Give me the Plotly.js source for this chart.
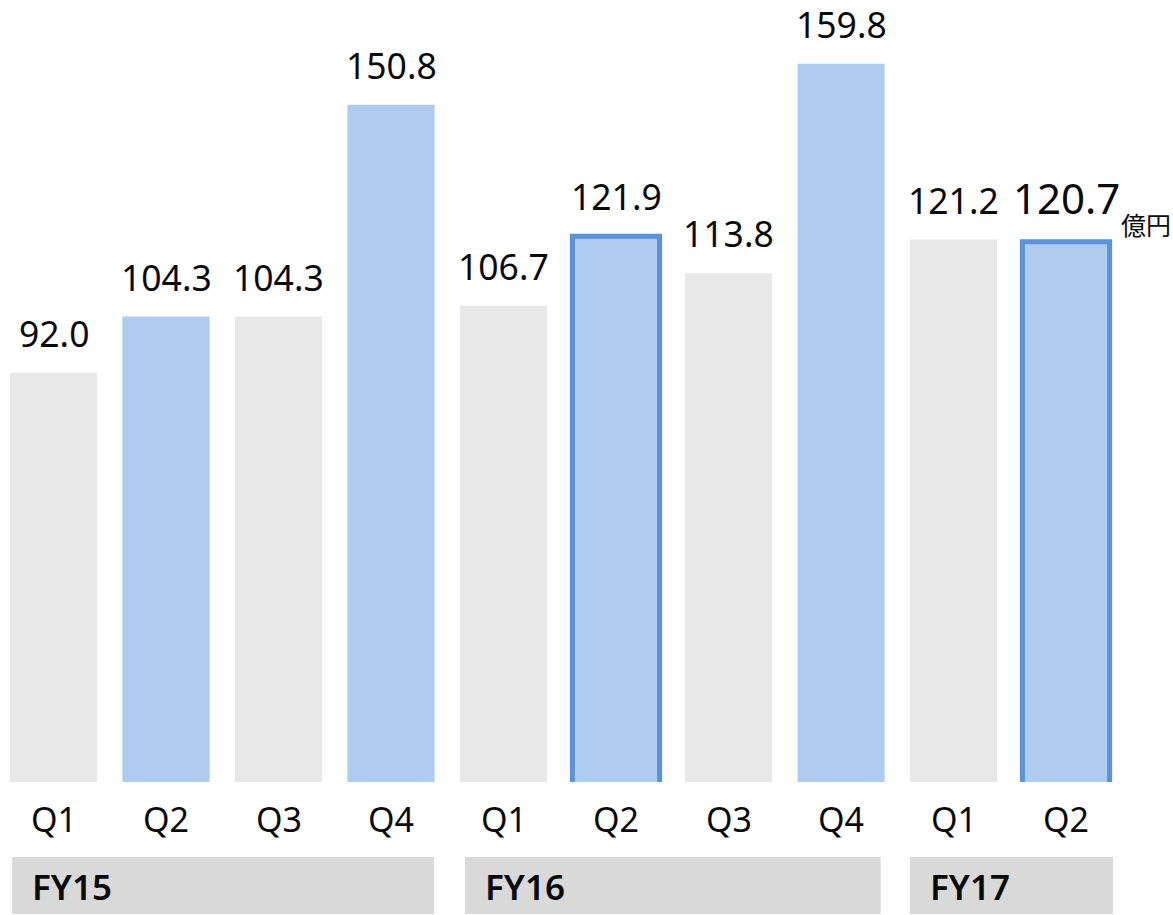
<!DOCTYPE html>
<html>
<head>
<meta charset="utf-8">
<script src="https://cdn.plot.ly/plotly-3.0.1.min.js"></script>
<style>html,body{margin:0;padding:0;background:#fff;}#chart{width:1173px;height:915px;}</style>
</head>
<body>
<div id="chart"></div>
<script>
// ---- data ----
const quarters = ['Q1','Q2','Q3','Q4','Q1','Q2','Q3','Q4','Q1','Q2'];
const values = [92.0, 104.3, 104.3, 150.8, 106.7, 121.9, 113.8, 159.8, 121.2, 120.7];
const fiscalYears = ['FY15','FY16','FY17'];
const groupSizes = [4, 4, 2];
const highlighted = [false, true, false, true, false, true, false, true, false, true];
const outlined = [false, false, false, false, false, true, false, false, false, true];
const unitLabel = '億円';

// ---- layout helpers ----
const W = 1173, H = 915, plotBottom = 782;
const FONT = '"Noto Sans", "Noto Sans CJK JP", sans-serif';
const py = p => (plotBottom - p) / plotBottom; // pixel y -> paper y
const xs = values.map((_, i) => i);

const gray = '#e8e8e8', blue = '#aecbf0', edge = '#5a93db';

const trace = {
  type: 'bar',
  x: xs,
  y: values,
  width: 0.775,
  marker: {
    color: highlighted.map(h => h ? blue : gray),
    line: {
      color: outlined.map(o => o ? edge : 'rgba(0,0,0,0)'),
      width: outlined.map(o => o ? 5 : 0)
    }
  },
  hoverinfo: 'none'
};

const annotations = [];
values.forEach((v, i) => {
  const last = i === values.length - 1;
  annotations.push({
    x: i, y: v, xref: 'x', yref: 'y',
    text: v.toFixed(1),
    showarrow: false,
    yanchor: 'bottom',
    yshift: last ? 14 : 14,
    font: {family: FONT, size: last ? 42 : 35.5, color: '#0a0a0a'}
  });
  annotations.push({
    x: i, y: 0, xref: 'x', yref: 'paper',
    text: quarters[i],
    showarrow: false,
    yanchor: 'middle',
    yshift: -37,
    font: {family: FONT, size: 34, color: '#0a0a0a'}
  });
});
// unit label
annotations.push({
  x: values.length - 1 + 0.47, y: values[values.length - 1], xref: 'x', yref: 'y',
  text: unitLabel, showarrow: false, xanchor: 'left', yanchor: 'bottom', yshift: -2,
  font: {family: FONT, size: 25, color: '#0a0a0a'}
});

const shapes = [];
let start = 0;
const boxPad = [[0.02, -0.005], [0.045, -0.035], [0.0, 0.03]];
fiscalYears.forEach((fy, g) => {
  const end = start + groupSizes[g] - 1;
  const x0 = start - 0.3875 + boxPad[g][0];
  const x1 = end + 0.3875 + boxPad[g][1];
  shapes.push({
    type: 'rect', xref: 'x', yref: 'paper',
    x0: x0, x1: x1, y0: py(914), y1: py(857),
    fillcolor: '#d9d9d9', line: {width: 0}, layer: 'below'
  });
  annotations.push({
    x: x0, y: py(886), xref: 'x', yref: 'paper',
    text: fy, showarrow: false, xanchor: 'left', yanchor: 'middle',
    xshift: 18,
    font: {family: FONT, size: 35, weight: 600, color: '#0a0a0a'}
  });
  start = end + 1;
});

const layout = {
  width: W, height: H,
  margin: {l: 0, r: 0, t: 0, b: H - plotBottom, pad: 0},
  paper_bgcolor: '#fff', plot_bgcolor: '#fff',
  showlegend: false,
  xaxis: {range: [-0.4756, 9.951], visible: false, fixedrange: true},
  yaxis: {range: [2.19, 173.76], visible: false, fixedrange: true},
  bargap: 0.225,
  annotations: annotations,
  shapes: shapes
};

Plotly.newPlot('chart', [trace], layout, {displayModeBar: false, staticPlot: true});
</script>
</body>
</html>
